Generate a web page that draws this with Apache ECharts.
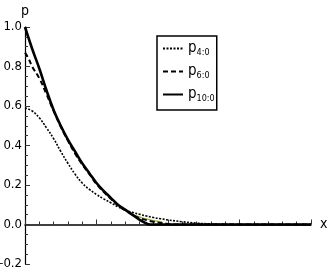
<!DOCTYPE html>
<html><head><meta charset="utf-8">
<script src="https://cdn.jsdelivr.net/npm/echarts@6/dist/echarts.min.js"></script>
<style>html,body{margin:0;padding:0;background:#fff}#c{width:327px;height:272px}</style>
</head><body><div id="c"></div>
<script>
const xsA = [0,0.1,0.2,0.3,0.4,0.5,0.6,0.7,0.8,0.9,1.0,1.1,1.2,1.3,1.4,1.5,1.6,1.7,1.75,2,3,4];
const p10 = [1.0,0.89,0.79,0.68,0.58,0.50,0.43,0.37,0.31,0.26,0.21,0.17,0.135,0.10,0.075,0.05,0.025,0.005,0,0,0,0];
const xsB = [0,0.05,0.1,0.2,0.3,0.4,0.5,0.6,0.7,0.8,0.9,1.0,1.1,1.2,1.3,1.4,1.5,1.6,1.7,1.8,1.9,2.0,2.1,3,4];
const p6 = [0.87,0.84,0.80,0.74,0.66,0.575,0.495,0.425,0.36,0.305,0.255,0.205,0.165,0.13,0.097,0.072,0.05,0.033,0.022,0.014,0.008,0.003,0,0,0];
const xsC = [0,0.1,0.2,0.3,0.4,0.5,0.6,0.7,0.8,0.9,1.0,1.1,1.2,1.3,1.4,1.5,1.6,1.7,1.8,1.9,2.0,2.2,2.4,2.6,2.8,3.0,4];
const p4 = [0.59,0.575,0.54,0.49,0.435,0.37,0.31,0.255,0.21,0.178,0.152,0.13,0.11,0.09,0.074,0.062,0.052,0.043,0.035,0.029,0.023,0.014,0.007,0.003,0.001,0,0];
const xsD = [1.55,1.65,1.75,1.85,1.92];
const olive = [0.045,0.033,0.024,0.017,0.013];
const legendNames = {p4:'4:0', p6:'6:0', p10:'10:0'};
const yTicks = [-0.2,0,0.2,0.4,0.6,0.8,1.0];
const xTicks = [1,2,3,4];

const zip = (xs, ys) => xs.map((x,i)=>[x,ys[i]]);
const FONT = "'Liberation Sans Narrow','DejaVu Sans Condensed',sans-serif";
const chart = echarts.init(document.getElementById('c'));
chart.setOption({
  animation:false,
  grid:{left:25,right:16,top:27,bottom:8,containLabel:false,outerBoundsMode:'none'},
  legend:{
    orient:'vertical', left:157, top:36, itemGap:7, itemWidth:20, itemHeight:10,
    borderColor:'#000', borderWidth:1.5, padding:[5,2,7,5],
    data:['p4','p6','p10'],
    itemStyle:{color:'rgba(0,0,0,0)',borderWidth:0,opacity:0},
    formatter:n=>'{p|p}{s|'+legendNames[n]+'}',
    textStyle:{color:'#000', fontFamily:FONT,
      rich:{p:{fontSize:15,fontFamily:FONT,color:'#000'},s:{fontSize:9,fontFamily:FONT,color:'#000',padding:[8,0,0,0]}}}
  },
  xAxis:{type:'value',min:0,max:4,interval:1,name:'x',nameLocation:'end',nameGap:9,
    nameTextStyle:{color:'#000',fontSize:14,fontFamily:FONT,padding:[0,0,2,0]},
    axisLine:{show:true,onZero:true,lineStyle:{color:'#000',width:1.5}},
    axisTick:{show:true,inside:true,length:5,lineStyle:{color:'#333',width:1}},
    minorTick:{show:true,splitNumber:5,length:3,lineStyle:{color:'#333',width:1}},
    splitLine:{show:false},
    axisLabel:{color:'#000',fontSize:13,fontFamily:FONT,margin:7,
      formatter:v=>xTicks.includes(v)?String(v):''}
  },
  yAxis:{type:'value',min:-0.2,max:1.0,interval:0.2,name:'p',nameLocation:'end',nameGap:9,
    nameTextStyle:{color:'#000',fontSize:14,fontFamily:FONT,align:'center'},
    axisLine:{show:true,onZero:false,lineStyle:{color:'#000',width:1.2}},
    axisTick:{show:true,inside:true,length:5,lineStyle:{color:'#333',width:1}},
    minorTick:{show:true,splitNumber:4,length:3,lineStyle:{color:'#333',width:1}},
    splitLine:{show:false},
    axisLabel:{color:'#000',fontSize:13,fontFamily:FONT,margin:3,
      formatter:v=>{const r=Math.round(v*10)/10; if(!yTicks.some(t=>Math.abs(t-r)<1e-9))return ''; return r<0?'\u2013'+Math.abs(r).toFixed(1):r.toFixed(1);}}
  },
  series:[
    {name:'olive',type:'line',data:zip(xsD,olive),symbol:'none',smooth:true,silent:true,
      lineStyle:{color:'#a4ad2e',width:1.2},z:1},
    {name:'p4',type:'line',data:zip(xsC,p4),symbol:'none',smooth:0.5,
      lineStyle:{color:'#000',width:1.6,type:[2,1.5]},itemStyle:{color:'#000'},z:3},
    {name:'p6',type:'line',data:zip(xsB,p6),symbol:'none',smooth:0.5,
      lineStyle:{color:'#000',width:2,type:[5,3]},itemStyle:{color:'#000'},z:4},
    {name:'p10',type:'line',data:zip(xsA,p10),symbol:'none',smooth:0.4,
      lineStyle:{color:'#000',width:2.6,type:'solid'},itemStyle:{color:'#000'},z:5}
  ]
});
</script></body></html>
